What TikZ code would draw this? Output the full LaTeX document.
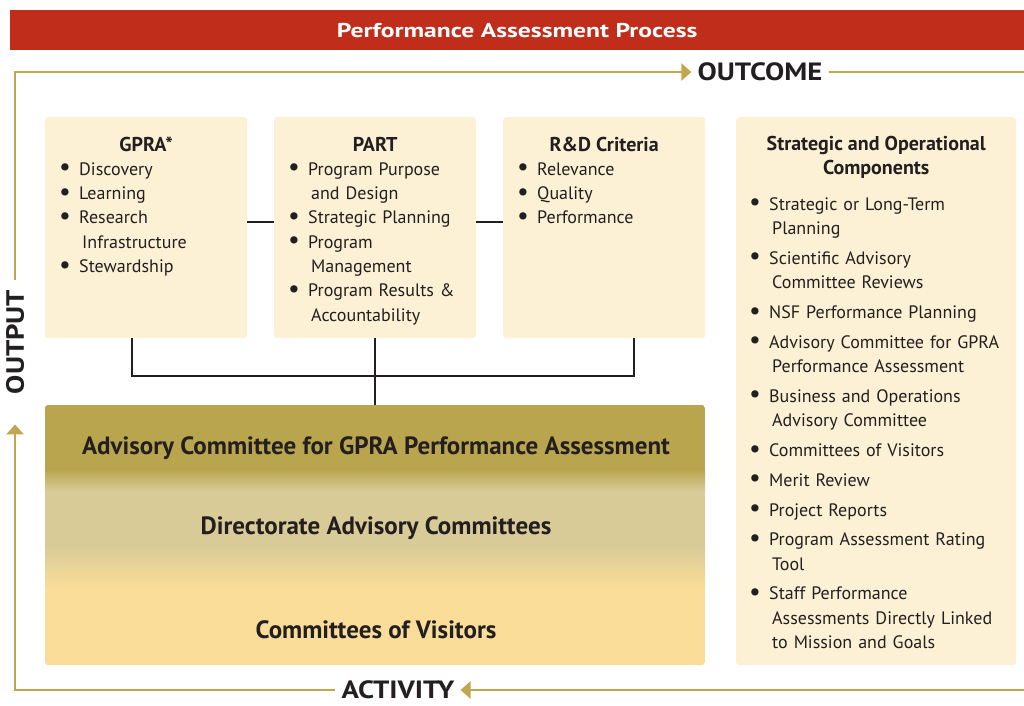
\documentclass[tikz,border=0pt]{standalone}
\usepackage{fontspec}
\setmainfont{PT Sans}
\newfontfamily\widefont{PT Sans}[FakeStretch=1.15]
\newfontfamily\bannerfont{PT Sans}[FakeStretch=1.28]
\usetikzlibrary{calc}
\usetikzlibrary{positioning}
\usetikzlibrary{arrows.meta}

\definecolor{bannerred}{HTML}{C12D1B}
\definecolor{loopgold}{HTML}{BFA64F}
\definecolor{panelcream}{HTML}{FCF1D4}
\definecolor{acdark}{HTML}{B9A54E}
\definecolor{dirmid}{HTML}{D9CB97}
\definecolor{covlight}{HTML}{F9DD99}
\definecolor{textdark}{HTML}{231F20}

\newcommand{\bitem}[1]{\hangindent=19pt\hangafter=1\noindent\makebox[19pt][l]{\hspace{-1pt}\raisebox{-0.6pt}{\scalebox{1.45}{\textbullet}}}\strut#1\par}

\begin{document}
\begin{tikzpicture}[x=1pt,y=-1pt,
  panel/.style={fill=panelcream,rounded corners=3pt,anchor=north west,inner sep=0pt},
  boxtitle/.style={font=\fontsize{20}{24.3}\selectfont\bfseries,text=textdark,inner sep=0pt},
  listtext/.style={anchor=north west,inner sep=0pt,text width=#1,font=\fontsize{18}{24.3}\selectfont,text=textdark,execute at begin node=\raggedright},
  bandtext/.style={anchor=base,inner sep=0pt,font=\fontsize{25}{25}\selectfont\bfseries,text=textdark},
  looplabel/.style={font=\widefont\fontsize{25}{25}\selectfont\bfseries,text=textdark,inner xsep=6pt,inner ysep=2pt},
  loopline/.style={draw=loopgold,line width=2.5pt},
  looparrow/.style={loopline,-{Triangle[length=10pt,width=17pt]}},
  link/.style={draw=textdark,line width=2pt}]

\useasboundingbox (0,0) rectangle (1024,705);

\node[fill=bannerred,text=white,font=\bannerfont\fontsize{20}{20}\selectfont\bfseries,minimum width=1014pt,minimum height=40pt,anchor=north west,inner sep=0pt] (banner) at (10,10) {Performance Assessment Process};

% the three criteria boxes
\node[panel,minimum width=202pt,minimum height=221pt] (gpra) at (45,117) {};
\node[panel,minimum width=202pt,minimum height=221pt] (part) at (274,117) {};
\node[panel,minimum width=202pt,minimum height=221pt] (rnd) at (503,117) {};
\node[panel,minimum width=280pt,minimum height=548pt] (strat) at (736,117) {};

\node[boxtitle,anchor=base] (gpra title) at ([yshift=-34pt]gpra.north) {GPRA*};
\node[boxtitle,anchor=base] (part title) at ([yshift=-34pt]part.north) {PART};
\node[boxtitle,anchor=base] (rnd title) at ([yshift=-34pt]rnd.north) {R\&D Criteria};
\node[boxtitle,align=center,anchor=north] (strat title) at ([yshift=-16pt]strat.north) {\strut Strategic and Operational\\Components};

\node[listtext=180pt] (gpra list) at (60,158) {%
\bitem{Discovery}\bitem{Learning}\bitem{Research\newline\hspace*{3pt}Infrastructure}\bitem{Stewardship}};
\node[listtext=180pt] (part list) at (289,158) {%
\bitem{Program Purpose\newline\hspace*{3pt}and Design}\bitem{Strategic Planning}\bitem{Program\newline\hspace*{3pt}Management}\bitem{Program Results \&\newline\hspace*{3pt}Accountability}};
\node[listtext=180pt] (rnd list) at (518,158) {%
\bitem{Relevance}\bitem{Quality}\bitem{Performance}};
\node[listtext=262pt] (strat list) at (750,193) {\setlength{\parskip}{5.5pt}%
\bitem{Strategic or Long-Term\newline\hspace*{3pt}Planning}%
\bitem{Scientific Advisory\newline\hspace*{3pt}Committee Reviews}%
\bitem{NSF Performance Planning}%
\bitem{Advisory Committee for GPRA\newline\hspace*{3pt}Performance Assessment}%
\bitem{Business and Operations\newline\hspace*{3pt}Advisory Committee}%
\bitem{Committees of Visitors}%
\bitem{Merit Review}%
\bitem{Project Reports}%
\bitem{Program Assessment Rating\newline\hspace*{3pt}Tool}%
\bitem{Staff Performance\newline\hspace*{3pt}Assessments Directly Linked\newline\hspace*{3pt}to Mission and Goals}};

% shaded committee block
\begin{scope}
\clip[rounded corners=3pt] (45,405) rectangle (705,665);
\fill[acdark] (45,405) rectangle (705,470);
\shade[top color=acdark,bottom color=dirmid] (45,469.5) rectangle (705,491);
\fill[dirmid] (45,490.5) rectangle (705,546);
\shade[top color=dirmid,bottom color=covlight] (45,545.5) rectangle (705,588);
\fill[covlight] (45,587.5) rectangle (705,665);
\end{scope}
\node[anchor=north west,minimum width=660pt,minimum height=260pt,inner sep=0pt] (acbox) at (45,405) {};
\node[bandtext] (ac gpra) at (376,454) {Advisory Committee for GPRA Performance Assessment};
\node[bandtext] (dir ac) at (376,534) {Directorate Advisory Committees};
\node[bandtext] (cov) at (376,638) {Committees of Visitors};

% links
\draw[link] ([yshift=6pt]gpra.east) -- ([yshift=6pt]part.west);
\draw[link] ([yshift=6pt]part.east) -- ([yshift=6pt]rnd.west);
\draw[link] ([xshift=-14pt]gpra.south) -- ++(0,38) -| ([xshift=30pt]rnd.south);
\draw[link] (part.south) -- (acbox.north);

% outer loop
\node[looplabel] (outcome) at (760,72) {OUTCOME};
\node[looplabel,rotate=90] (output) at (15,342) {OUTPUT};
\node[looplabel] (activity) at (398,690) {ACTIVITY};
\coordinate (outcome end) at (1024,72);
\coordinate (activity start) at (1024,690);

\draw[looparrow] ([yshift=4pt]output.east) |- (outcome.west);
\draw[loopline] (outcome.east) -- (outcome end);
\draw[looparrow] (activity start) -- (activity.east);
\draw[looparrow] (activity.west) -| ([yshift=-24pt]output.west);

\end{tikzpicture}
\end{document}
